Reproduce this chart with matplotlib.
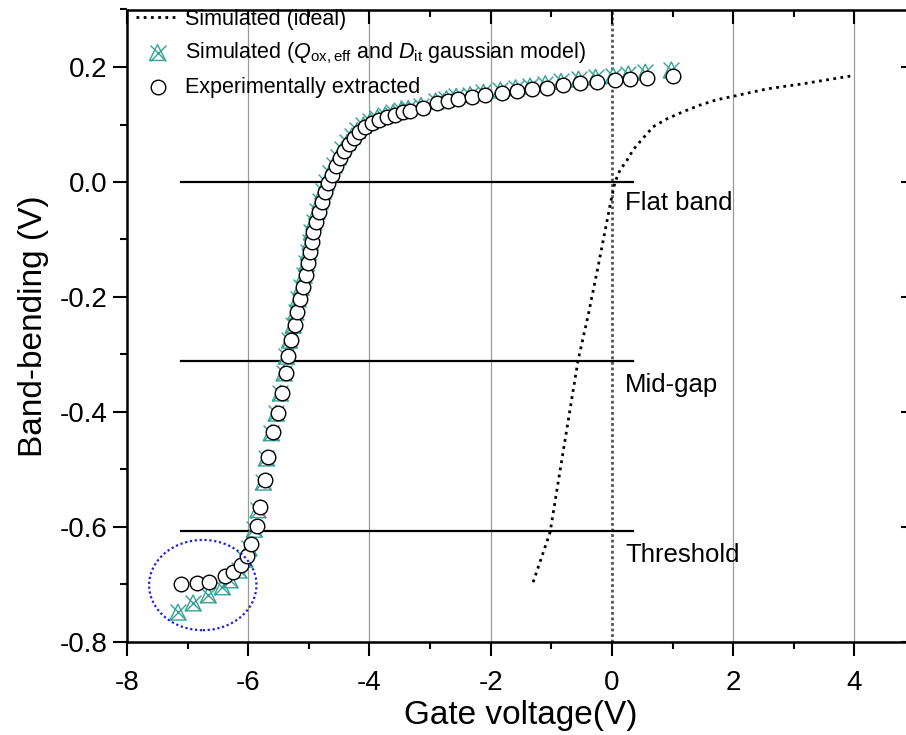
import numpy as np
import matplotlib.pyplot as plt
from matplotlib.patches import Ellipse
from matplotlib.legend_handler import HandlerTuple
from matplotlib.ticker import MultipleLocator

plt.rcParams['font.family'] = ['Liberation Sans', 'DejaVu Sans']
plt.rcParams['mathtext.fontset'] = 'custom'
plt.rcParams['mathtext.it'] = 'Liberation Sans:italic'
plt.rcParams['mathtext.rm'] = 'Liberation Sans'

# Experimentally extracted band-bending (circles)
exp_v = [-7.11, -6.84, -6.65, -6.38, -6.25, -6.12, -6.02, -5.95, -5.86, -5.81,
         -5.72, -5.67, -5.59, -5.51, -5.44, -5.38, -5.34, -5.29, -5.23, -5.19,
         -5.15, -5.10, -5.05, -5.01, -4.98, -4.95, -4.93, -4.89, -4.84, -4.79,
         -4.74, -4.68, -4.62, -4.56, -4.49, -4.42, -4.34, -4.26, -4.17, -4.07,
         -3.96, -3.84, -3.71, -3.58, -3.45, -3.33, -3.12, -2.88, -2.70, -2.54,
         -2.31, -2.09, -1.81, -1.56, -1.32, -1.07, -0.81, -0.52, -0.24, 0.05,
         0.30, 0.58, 1.00]
exp_bb = [-0.699, -0.697, -0.696, -0.685, -0.678, -0.666, -0.650, -0.630, -0.598, -0.565,
          -0.518, -0.478, -0.435, -0.402, -0.367, -0.332, -0.303, -0.275, -0.249, -0.226,
          -0.203, -0.183, -0.162, -0.141, -0.122, -0.104, -0.087, -0.070, -0.052, -0.035,
          -0.018, -0.002, 0.013, 0.027, 0.041, 0.054, 0.066, 0.077, 0.087, 0.095,
          0.102, 0.108, 0.113, 0.117, 0.121, 0.124, 0.129, 0.137, 0.141, 0.145,
          0.148, 0.151, 0.155, 0.158, 0.161, 0.164, 0.168, 0.172, 0.174, 0.177,
          0.179, 0.181, 0.184]

# Simulated (Qox,eff and Dit gaussian model)
sim_v = [-7.16, -6.91, -6.66, -6.43, -6.30, -6.16, -6.06, -5.99, -5.90, -5.84,
         -5.75, -5.70, -5.62, -5.54, -5.47, -5.41, -5.37, -5.32, -5.26, -5.22,
         -5.18, -5.13, -5.08, -5.04, -5.01, -4.98, -4.96, -4.92, -4.87, -4.82,
         -4.77, -4.71, -4.65, -4.59, -4.52, -4.45, -4.37, -4.29, -4.20, -4.10,
         -3.99, -3.87, -3.74, -3.61, -3.48, -3.36, -3.15, -2.91, -2.73, -2.57,
         -2.34, -2.12, -1.84, -1.59, -1.35, -1.10, -0.84, -0.55, -0.27, 0.02,
         0.27, 0.55, 0.98]
sim_bb = [-0.748, -0.732, -0.718, -0.704, -0.692, -0.675, -0.656, -0.636, -0.604, -0.570,
          -0.522, -0.480, -0.436, -0.402, -0.367, -0.332, -0.303, -0.275, -0.249, -0.226,
          -0.203, -0.183, -0.162, -0.141, -0.122, -0.104, -0.087, -0.069, -0.051, -0.033,
          -0.016, 0.000, 0.015, 0.030, 0.044, 0.057, 0.069, 0.080, 0.090, 0.099,
          0.106, 0.112, 0.117, 0.121, 0.125, 0.128, 0.133, 0.141, 0.145, 0.149,
          0.152, 0.156, 0.160, 0.164, 0.167, 0.171, 0.175, 0.179, 0.182, 0.185,
          0.188, 0.191, 0.195]

# Simulated ideal curve (dotted)
ideal_v = [-1.30, -1.02, -0.80, -0.56, -0.39, -0.23, -0.03, 0.05, 0.135, 0.25,
           0.35, 0.52, 0.68, 0.91, 1.17, 1.46, 1.73, 2.00, 2.56, 3.10, 3.98]
ideal_bb = [-0.696, -0.609, -0.466, -0.311, -0.231, -0.148, -0.040, 0.000, 0.021, 0.038,
            0.056, 0.077, 0.096, 0.110, 0.122, 0.134, 0.143, 0.149, 0.162, 0.170, 0.185]

# Reference levels
levels = [0.0, -0.311, -0.607]
level_names = ['Flat band', 'Mid-gap', 'Threshold']
level_label_y = [-0.037, -0.353, -0.649]

fig = plt.figure(figsize=(9.06, 7.35), dpi=100)
ax = fig.add_axes([127/906, 93/735, 788/906, 632.5/735])

for gx in [-6, -4, -2, 2, 4]:
    ax.axvline(gx, color='#9a9a9a', lw=0.9, zorder=0)
ax.axvline(0, color='#555555', lw=2, ls=(0, (1, 1)), zorder=1)

for lv in levels:
    ax.plot([-7.11, 0.34], [lv, lv], color='black', lw=1.6, zorder=2)
for lv_y, name in zip(level_label_y, level_names):
    ax.text(0.22, lv_y, name, fontsize=18.5, va='center', ha='left')

l_ideal, = ax.plot(ideal_v, ideal_bb, color='black', lw=2, ls=(0, (1, 1.6)), zorder=3)

teal = '#35a295'
tri = ax.scatter(sim_v, sim_bb, marker='^', s=130, facecolors='none', edgecolors=teal,
                 linewidths=1.0, zorder=4)
crs = ax.scatter(sim_v, sim_bb, marker='x', s=130, color=teal, linewidths=1.0, zorder=4)
circ = ax.scatter(exp_v, exp_bb, marker='o', s=110, facecolors='white', edgecolors='black',
                  linewidths=1.0, zorder=5)

ell = Ellipse((-6.75, -0.701), 1.77, 0.157, fill=False, edgecolor='#2020e0', lw=1.6,
              ls=(0, (1, 1.2)), zorder=6)
ax.add_patch(ell)

ax.set_xlim(-8, 5)
ax.set_ylim(-0.8, 0.3)
ax.xaxis.set_minor_locator(MultipleLocator(1))
ax.yaxis.set_minor_locator(MultipleLocator(0.1))
ax.set_yticks([-0.8, -0.6, -0.4, -0.2, 0.0, 0.2])
ax.set_yticklabels(['-0.8', '-0.6', '-0.4', '-0.2', '0.0', '0.2'])
ax.set_xticks([-8, -6, -4, -2, 0, 2, 4])
ax.set_xticklabels(['-8', '-6', '-4', '-2', '0', '2', '4'])
ax.tick_params(axis='both', which='major', direction='out', length=10, width=1.5,
               labelsize=20, pad=4)
ax.tick_params(axis='x', which='major', pad=10)
ax.tick_params(axis='both', which='minor', direction='out', length=5, width=1.5)
ax.tick_params(axis='both', which='both', top=True, right=True)
for t in ax.xaxis.get_major_ticks() + ax.xaxis.get_minor_ticks():
    t.tick2line.set_marker(3)
for t in ax.yaxis.get_major_ticks() + ax.yaxis.get_minor_ticks():
    t.tick2line.set_marker(0)
for sp in ax.spines.values():
    sp.set_linewidth(1.8)

ax.set_xlabel('Gate voltage(V)', fontsize=24, labelpad=3)
ax.set_ylabel('Band-bending (V)', fontsize=24, labelpad=8)

ax.legend([l_ideal, (tri, crs), circ],
          ['Simulated (ideal)',
           'Simulated ($Q_{\\mathrm{ox,eff}}$ and $D_{\\mathrm{it}}$ gaussian model)',
           'Experimentally extracted'],
          handler_map={tuple: HandlerTuple(ndivide=1, pad=0)},
          loc='upper left', bbox_to_anchor=(-0.005, 1.022), frameon=False,
          fontsize=15.5, handlelength=2.0, handletextpad=0.3, labelspacing=0.5,
          borderaxespad=0.2)

fig.savefig('out.png', dpi=100)
